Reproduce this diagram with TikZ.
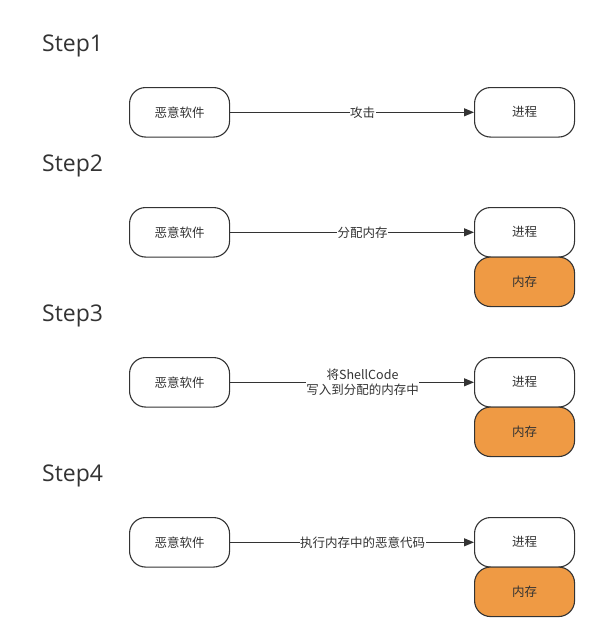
\documentclass[tikz,border=0pt]{standalone}
\usepackage{fontspec}
\setmainfont{Open Sans}
\newfontfamily\cjk{Noto Sans CJK SC}
\usetikzlibrary{arrows.meta}
\definecolor{ln}{HTML}{333333}
\definecolor{mem}{HTML}{EF9A44}
\tikzset{
  box/.style={draw=ln, line width=1.1pt, rounded corners=16pt, minimum width=100pt, minimum height=49.5pt, inner sep=0pt, font=\cjk\fontsize{12.5}{15}\selectfont, text=ln, anchor=north west},
  membox/.style={box, fill=mem},
  steplbl/.style={font=\fontsize{23}{26}\selectfont, text=ln, anchor=west, inner sep=0pt},
  conn/.style={draw=ln, line width=1.1pt, -{Triangle[length=10pt,width=8pt]}},
  elbl/.style={fill=white, inner sep=0.5pt, font=\cjk\fontsize{12.5}{15}\selectfont, text=ln, align=center},
}
\begin{document}
\begin{tikzpicture}[x=1pt,y=-1pt]
\useasboundingbox (0,0) rectangle (599,641);
% Step 1
\node[steplbl] (s1) at (42,46) {Step1};
\node[box] (m1) at (129,87) {恶意软件};
\node[box] (p1) at (474,87) {进程};
\draw[conn] (m1) -- node[elbl, pos=0.543] (l1) {攻击} (p1);
% Step 2
\node[steplbl] (s2) at (42,166) {Step2};
\node[box] (m2) at (129,207) {恶意软件};
\node[box] (p2) at (474,207) {进程};
\node[membox] (r2) at (474,256.5) {内存};
\draw[conn] (m2) -- node[elbl, pos=0.543] (l2) {分配内存} (p2);
% Step 3
\node[steplbl] (s3) at (42,316) {Step3};
\node[box] (m3) at (129,357) {恶意软件};
\node[box] (p3) at (474,357) {进程};
\node[membox] (r3) at (474,406.5) {内存};
\draw[conn] (m3) -- node[elbl, pos=0.543, inner sep=0pt] (l3) {将ShellCode\\写入到分配的内存中} (p3);
% Step 4
\node[steplbl] (s4) at (42,476) {Step4};
\node[box] (m4) at (129,517) {恶意软件};
\node[box] (p4) at (474,517) {进程};
\node[membox] (r4) at (474,566.5) {内存};
\draw[conn] (m4) -- node[elbl, pos=0.543] (l4) {执行内存中的恶意代码} (p4);
\end{tikzpicture}
\end{document}
